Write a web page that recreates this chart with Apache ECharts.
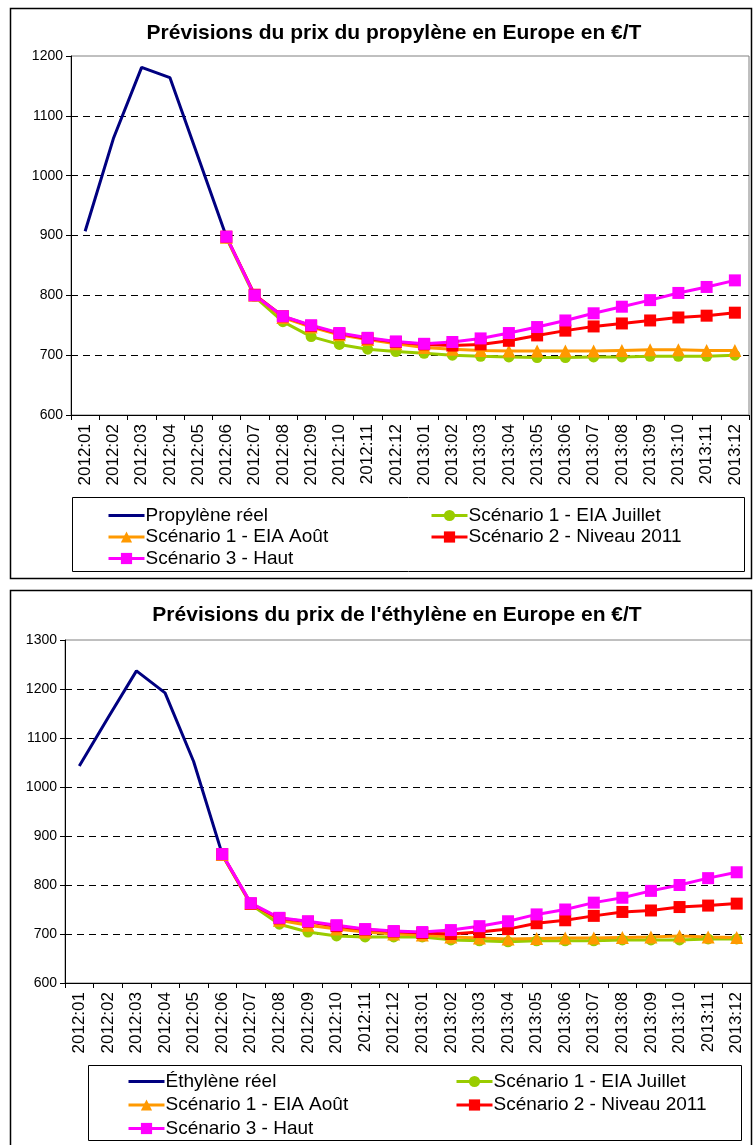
<!DOCTYPE html>
<html>
<head>
<meta charset="utf-8">
<script src="https://cdn.jsdelivr.net/npm/echarts@6/dist/echarts.min.js"></script>
<style>
  html, body { margin: 0; padding: 0; background: #fff; }
  #chart { width: 756px; height: 1145px; }
</style>
</head>
<body>
<div id="chart"></div>
<script>
// ---------- Data ----------
const categories = ['2012:01','2012:02','2012:03','2012:04','2012:05','2012:06','2012:07','2012:08','2012:09','2012:10','2012:11','2012:12',
                    '2013:01','2013:02','2013:03','2013:04','2013:05','2013:06','2013:07','2013:08','2013:09','2013:10','2013:11','2013:12'];

const titleTop = 'Prévisions du prix du propylène en Europe en €/T';
const titleBottom = "Prévisions du prix de l'éthylène en Europe en €/T";

const nameReelTop = 'Propylène réel';
const nameReelBottom = 'Éthylène réel';
const nameJuillet = 'Scénario 1 - EIA Juillet';
const nameAout = 'Scénario 1 - EIA Août';
const nameNiveau = 'Scénario 2 - Niveau 2011';
const nameHaut = 'Scénario 3 - Haut';

const yTicksTop = [600, 1200, 100];
const yTicksBottom = [600, 1300, 100];

// Propylène
const propReel     = [907, 1062, 1181, 1164, 1031, 898, null, null, null, null, null, null, null, null, null, null, null, null, null, null, null, null, null, null];
const propJuillet  = [null, null, null, null, null, 896, 798, 756, 731, 718, 710, 706, 703, 700, 698, 697, 696, 696, 697, 697, 698, 698, 698, 700];
const propAout     = [null, null, null, null, null, 897, 800, 763, 747, 734, 726, 719, 713, 710, 708, 707, 707, 707, 707, 708, 709, 709, 708, 708];
const propNiveau   = [null, null, null, null, null, 898, 801, 765, 749, 736, 728, 722, 718, 716, 718, 724, 733, 741, 748, 753, 758, 763, 766, 771];
const propHaut     = [null, null, null, null, null, 898, 800, 765, 750, 737, 729, 723, 719, 722, 728, 737, 747, 758, 770, 781, 792, 804, 814, 825];

// Éthylène
const ethReel      = [1043, 1141, 1237, 1192, 1052, 863, null, null, null, null, null, null, null, null, null, null, null, null, null, null, null, null, null, null];
const ethJuillet   = [null, null, null, null, null, 861, 760, 720, 704, 696, 694, 694, 694, 688, 686, 684, 686, 686, 686, 688, 688, 688, 690, 690];
const ethAout      = [null, null, null, null, null, 862, 762, 728, 718, 710, 704, 700, 698, 694, 692, 690, 691, 692, 692, 693, 694, 696, 694, 693];
const ethNiveau    = [null, null, null, null, null, 863, 762, 732, 725, 716, 709, 705, 702, 700, 704, 710, 722, 728, 737, 745, 748, 755, 758, 762];
const ethHaut      = [null, null, null, null, null, 863, 763, 733, 726, 718, 710, 706, 704, 708, 716, 726, 740, 750, 764, 774, 788, 800, 814, 826];

// ---------- Styles ----------
const FONT = '"Liberation Sans", Arial, sans-serif';
const C_REEL = '#000080', C_JUIL = '#99CC00', C_AOUT = '#FF9900', C_NIV = '#FF0000', C_HAUT = '#FF00FF';

function xAxis(gridIndex) {
  return {
    type: 'category', gridIndex, data: categories, boundaryGap: true,
    axisLine: { show: true, lineStyle: { color: '#000', width: 1 } },
    axisTick: { show: true, alignWithLabel: false, interval: 0, length: 5, lineStyle: { color: '#000' } },
    axisLabel: { interval: 0, rotate: 90, color: '#000', fontFamily: FONT, fontSize: 17, margin: 9 },
    splitLine: { show: false }
  };
}
function yAxis(gridIndex, t) {
  return {
    type: 'value', gridIndex, min: t[0], max: t[1], interval: t[2],
    axisLine: { show: true, lineStyle: { color: '#000', width: 1 } },
    axisTick: { show: true, length: 5, lineStyle: { color: '#000' } },
    axisLabel: { color: '#000', fontFamily: FONT, fontSize: 14, margin: 8, formatter: v => String(v) },
    splitLine: { show: true, showMinLine: false, showMaxLine: false, lineStyle: { color: '#000', type: [7, 5], width: 1 } }
  };
}
function lineSeries(name, data, color, idx, symbol, size) {
  return {
    type: 'line', name, data, xAxisIndex: idx, yAxisIndex: idx,
    symbol: symbol || 'none', symbolSize: size || 0, showSymbol: !!symbol,
    lineStyle: { color, width: 3 }, itemStyle: { color },
    animation: false, z: 3
  };
}
function seriesFor(idx, reelName, reel, juil, aout, niv, haut) {
  return [
    lineSeries(reelName, reel, C_REEL, idx),
    lineSeries(nameJuillet, juil, C_JUIL, idx, 'circle', 11),
    lineSeries(nameAout, aout, C_AOUT, idx, 'triangle', 13),
    lineSeries(nameNiveau, niv, C_NIV, idx, 'rect', 12),
    lineSeries(nameHaut, haut, C_HAUT, idx, 'rect', 12)
  ];
}
function legendItem(name) {
  if (name === nameReelTop || name === nameReelBottom) {
    return { name, itemStyle: { opacity: 0 } };
  }
  return { name };
}
function legend(left, top, names, gap) {
  return {
    orient: 'vertical', left, top, data: names.map(legendItem), itemGap: gap, itemWidth: 36, itemHeight: 14,
    selectedMode: false, padding: 0,
    lineStyle: { width: 3 },
    textStyle: { color: '#000', fontFamily: FONT, fontSize: 19, padding: [0, 0, 0, -4] }
  };
}

const chart = echarts.init(document.getElementById('chart'), null, { renderer: 'canvas' });
chart.setOption({
  animation: false,
  backgroundColor: '#fff',
  title: [
    { text: titleTop, left: 389, top: 18, textAlign: 'center',
      textStyle: { fontFamily: FONT, fontWeight: 'bold', fontSize: 21, color: '#000' } },
    { text: titleBottom, left: 392, top: 600, textAlign: 'center',
      textStyle: { fontFamily: FONT, fontWeight: 'bold', fontSize: 21, color: '#000' } }
  ],
  grid: [
    { left: 71, top: 56, width: 678, height: 359, show: true, borderColor: '#808080', borderWidth: 1, containLabel: false },
    { left: 65, top: 640, width: 686, height: 343, show: true, borderColor: '#808080', borderWidth: 1, containLabel: false }
  ],
  xAxis: [xAxis(0), xAxis(1)],
  yAxis: [yAxis(0, yTicksTop), yAxis(1, yTicksBottom)],
  legend: [
    legend(107, 506, [nameReelTop, nameAout, nameHaut], 2.5),
    legend(430, 506, [nameJuillet, nameNiveau], 2.5),
    legend(127, 1072, [nameReelBottom, nameAout, nameHaut], 4.5),
    legend(455, 1072, [nameJuillet, nameNiveau], 4.5)
  ],
  graphic: [
    { type: 'rect', shape: { x: 10.5, y: 8.5, width: 741, height: 570 }, style: { fill: 'none', stroke: '#000', lineWidth: 1.5 }, silent: true },
    { type: 'rect', shape: { x: 10.5, y: 590.5, width: 741, height: 570 }, style: { fill: 'none', stroke: '#000', lineWidth: 1.5 }, silent: true },
    { type: 'rect', shape: { x: 72.5, y: 497.5, width: 672, height: 74 }, style: { fill: 'none', stroke: '#000', lineWidth: 1 }, silent: true },
    { type: 'rect', shape: { x: 88.5, y: 1065.5, width: 653, height: 75 }, style: { fill: 'none', stroke: '#000', lineWidth: 1 }, silent: true }
  ],
  series: [].concat(
    seriesFor(0, nameReelTop, propReel, propJuillet, propAout, propNiveau, propHaut),
    seriesFor(1, nameReelBottom, ethReel, ethJuillet, ethAout, ethNiveau, ethHaut)
  )
});
</script>
</body>
</html>
